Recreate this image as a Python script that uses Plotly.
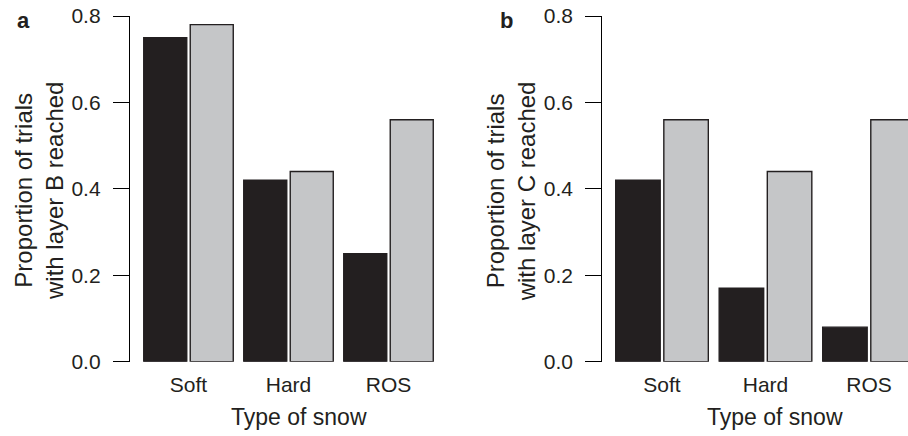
import plotly.graph_objects as go

W, H = 908, 436

categories = ["Soft", "Hard", "ROS"]
layer_b_dark = [0.75, 0.42, 0.25]
layer_b_light = [0.78, 0.44, 0.56]
layer_c_dark = [0.42, 0.17, 0.08]
layer_c_light = [0.56, 0.44, 0.56]
y_ticks = [0.0, 0.2, 0.4, 0.6, 0.8]

DARK = "#231f20"
LIGHT = "#c5c6c8"
FONT = "Liberation Sans, Arial, Helvetica, sans-serif"

def px_x(p):
    return p / W

def px_y(p):
    return 1 - p / H

fig = go.Figure()
for xa, ya, dark, light in [("x", "y", layer_b_dark, layer_b_light),
                            ("x2", "y2", layer_c_dark, layer_c_light)]:
    fig.add_trace(go.Bar(x=categories, y=dark, xaxis=xa, yaxis=ya,
                         marker=dict(color=DARK, line=dict(color=DARK, width=1.4)),
                         offsetgroup="1", showlegend=False, hoverinfo="skip"))
    fig.add_trace(go.Bar(x=categories, y=light, xaxis=xa, yaxis=ya,
                         marker=dict(color=LIGHT, line=dict(color=DARK, width=1.4)),
                         offsetgroup="2", showlegend=False, hoverinfo="skip"))

ydom = [px_y(361.7), px_y(16)]
yax = dict(range=[0, 0.8], domain=ydom, showline=True, linecolor="black", linewidth=1.3,
           ticks="outside", ticklen=16, tickwidth=1.3, tickcolor="black",
           tickvals=y_ticks, tickformat=".1f", showgrid=False, zeroline=False,
           ticklabelstandoff=8, automargin=False,
           tickfont=dict(family=FONT, size=21, color="#231f20"))
xax = dict(type="category", categoryarray=categories, showline=False, showgrid=False,
           zeroline=False, ticks="", ticklabelstandoff=8, automargin=False,
           tickfont=dict(family=FONT, size=21, color="#231f20"))

fig.update_layout(
    width=W, height=H,
    margin=dict(l=0, r=0, t=0, b=0, autoexpand=False),
    paper_bgcolor="white", plot_bgcolor="white",
    barmode="group", bargap=0.07, bargroupgap=0.075,
    xaxis=dict(xax, domain=[px_x(130), px_x(440)], range=[-0.585, 2.515], anchor="y"),
    yaxis=dict(yax, anchor="x"),
    xaxis2=dict(xax, domain=[px_x(602.3), 1.0], range=[-0.577, 2.377], anchor="y2"),
    yaxis2=dict(yax, anchor="x2"),
    font=dict(family=FONT, color="#231f20"),
)

ann = []
for lab, lx in [("a", 23), ("b", 506.7)]:
    ann.append(dict(text="<b>%s</b>" % lab, x=px_x(lx), y=px_y(21), xref="paper", yref="paper",
                    xanchor="center", yanchor="middle", showarrow=False,
                    font=dict(family=FONT, size=22, color="#231f20")))
for txt, lx in [("Proportion of trials<br>with layer B reached", 39),
                ("Proportion of trials<br>with layer C reached", 511.3)]:
    ann.append(dict(text=txt, x=px_x(lx), y=px_y(191), xref="paper", yref="paper",
                    xanchor="center", yanchor="middle", textangle=-90, showarrow=False,
                    font=dict(family=FONT, size=24, color="#231f20")))
for lx in [299, 775]:
    ann.append(dict(text="Type of snow", x=px_x(lx), y=px_y(417), xref="paper", yref="paper",
                    xanchor="center", yanchor="middle", showarrow=False,
                    font=dict(family=FONT, size=23, color="#231f20")))
fig.update_layout(annotations=ann)

fig.write_html("out.html",
               config={"displayModeBar": False},
               post_script="document.body.style.margin='0';"
                           "document.body.style.padding='0';"
                           "document.documentElement.style.overflow='hidden';")
